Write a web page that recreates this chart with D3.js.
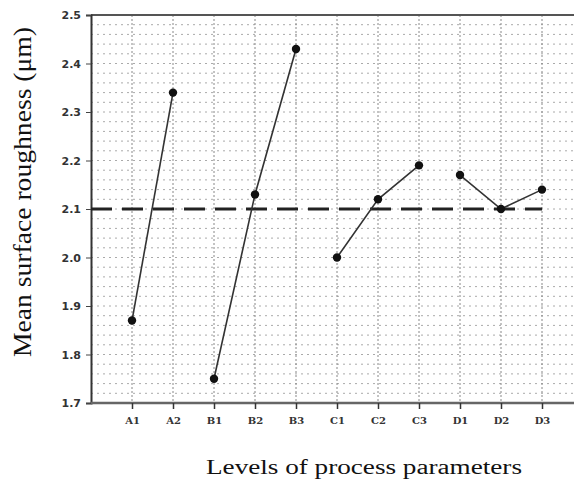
<!DOCTYPE html>
<html><head><meta charset="utf-8">
<script src="https://cdn.jsdelivr.net/npm/d3@7"></script>
<style>body{margin:0;background:#fff}svg{display:block}</style>
</head><body>
<svg id="c" width="574" height="487"></svg>
<script>
const categories = ["A1","A2","B1","B2","B3","C1","C2","C3","D1","D2","D3"];
const groups = ["A","A","B","B","B","C","C","C","D","D","D"];
const values = [1.87,2.34,1.75,2.13,2.43,2.00,2.12,2.19,2.17,2.10,2.14];
const meanValue = 2.10;
const yTicks = [1.7,1.8,1.9,2.0,2.1,2.2,2.3,2.4,2.5];
const yTickLabels = ["1.7","1.8","1.9","2.0","2.1","2.2","2.3","2.4","2.5"];
const yMinorTicks = d3.range(1.72, 2.5, 0.02);

const svg = d3.select("#c");
const L = 91, T = 15, B = 403, R = 574;
const x = d3.scalePoint().domain(categories).range([L, 583]).padding(1);
const y = d3.scaleLinear().domain([1.7, 2.5]).range([B, T]);

// horizontal grid
svg.append("g").selectAll("line").data(yMinorTicks).join("line")
  .attr("x1", L).attr("x2", R).attr("y1", d => y(d)).attr("y2", d => y(d))
  .attr("stroke", "#aaa").attr("stroke-width", 1).attr("stroke-dasharray", "2,4");
// vertical grid
svg.append("g").selectAll("line").data(categories).join("line")
  .attr("x1", d => x(d)).attr("x2", d => x(d)).attr("y1", T).attr("y2", B)
  .attr("stroke", "#888").attr("stroke-width", 1).attr("stroke-dasharray", "2,2");

// top border
svg.append("line").attr("x1", L).attr("x2", R).attr("y1", T).attr("y2", T)
  .attr("stroke", "#555").attr("stroke-width", 2);

// axes
const yAxis = d3.axisLeft(y).tickValues(yTicks).tickSize(5)
  .tickFormat((d, i) => yTickLabels[i]);
const gy = svg.append("g").attr("transform", `translate(${L},0)`).call(yAxis);
gy.select(".domain").attr("stroke", "#333").attr("stroke-width", 2);
gy.selectAll(".tick line").attr("stroke", "#444");
gy.selectAll(".tick text").attr("font-family", "DejaVu Sans, sans-serif").attr("font-size", 11)
  .attr("font-weight", "bold").attr("fill", "#333").attr("x", -10);

const xAxis = d3.axisBottom(x).tickSize(6).tickSizeOuter(0);
const gx = svg.append("g").attr("transform", `translate(0,${B})`).call(xAxis);
gx.select(".domain").attr("stroke", "#666").attr("stroke-width", 2.5).attr("d", `M${L},0H${R}`);
gx.selectAll(".tick line").attr("stroke", "#333").attr("stroke-width", 1.5);
gx.selectAll(".tick text").attr("font-family", "DejaVu Serif, serif").attr("font-size", 10)
  .attr("font-weight", "bold").attr("fill", "#333").attr("dy", "1.2em");

// mean dashed line
svg.append("line").attr("x1", L).attr("x2", x("D3")).attr("y1", y(meanValue)).attr("y2", y(meanValue))
  .attr("stroke", "#222").attr("stroke-width", 3).attr("stroke-dasharray", "21,10");

// series lines per group
const data = categories.map((c, i) => ({c, g: groups[i], v: values[i]}));
const byGroup = d3.groups(data, d => d.g);
const line = d3.line().x(d => x(d.c)).y(d => y(d.v));
svg.append("g").selectAll("path").data(byGroup).join("path")
  .attr("d", d => line(d[1])).attr("fill", "none").attr("stroke", "#333").attr("stroke-width", 1.6);
svg.append("g").selectAll("circle").data(data).join("circle")
  .attr("cx", d => x(d.c)).attr("cy", d => y(d.v)).attr("r", 4.2).attr("fill", "#111");

// titles
svg.append("text").attr("transform", "translate(31,192) rotate(-90)")
  .attr("text-anchor", "middle").attr("font-family", "Liberation Serif, serif").attr("font-size", 25)
  .attr("textLength", 330).attr("lengthAdjust", "spacingAndGlyphs")
  .attr("fill", "#111").text("Mean surface roughness (μm)");
svg.append("text").attr("x", 364).attr("y", 474).attr("text-anchor", "middle")
  .attr("font-family", "Liberation Serif, serif").attr("font-size", 20)
  .attr("textLength", 316).attr("lengthAdjust", "spacingAndGlyphs")
  .attr("fill", "#111").text("Levels of process parameters");
</script>
</body></html>
